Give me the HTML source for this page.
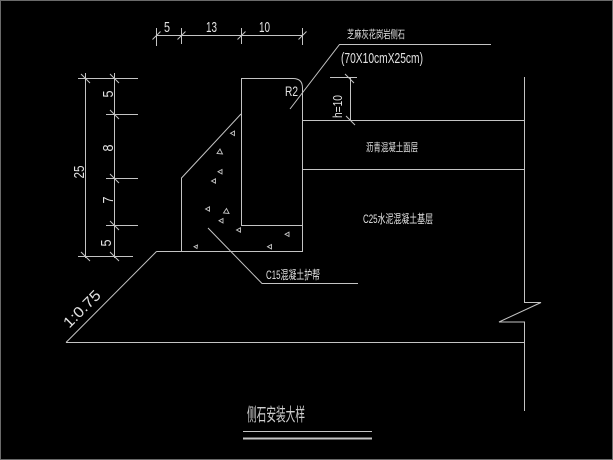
<!DOCTYPE html>
<html><head><meta charset="utf-8"><style>
html,body{margin:0;padding:0;background:#000;}
svg{display:block;}
text{font-family:"Liberation Sans","Noto Sans CJK SC","WenQuanYi Zen Hei",sans-serif;fill:#e2e2e2;}
</style></head><body>
<svg width="613" height="460" viewBox="0 0 613 460" xmlns="http://www.w3.org/2000/svg">
<rect x="0" y="0" width="613" height="460" fill="#000"/>
<rect x="0.5" y="0.5" width="612" height="459" fill="none" stroke="#6a6a6a" stroke-width="1"/>
<g stroke="#c4c4c4" stroke-width="1" fill="none">
  <!-- top dimension -->
  <line x1="156" y1="35.5" x2="303" y2="35.5"/>
  <line x1="156.5" y1="28" x2="156.5" y2="46"/>
  <line x1="181.5" y1="28" x2="181.5" y2="44"/>
  <line x1="241.5" y1="28" x2="241.5" y2="44"/>
  <line x1="302.5" y1="28" x2="302.5" y2="45"/>
  <line x1="152.5" y1="39.5" x2="160.5" y2="31.5"/>
  <line x1="177.5" y1="39.5" x2="185.5" y2="31.5"/>
  <line x1="237.5" y1="39.5" x2="245.5" y2="31.5"/>
  <line x1="298.5" y1="39.5" x2="306.5" y2="31.5"/>
  <!-- left vertical dimensions -->
  <line x1="85.5" y1="73" x2="85.5" y2="258"/>
  <line x1="114.5" y1="73" x2="114.5" y2="258"/>
  <line x1="78" y1="78.5" x2="138" y2="78.5"/>
  <line x1="106" y1="114.5" x2="138" y2="114.5"/>
  <line x1="106" y1="178.5" x2="138" y2="178.5"/>
  <line x1="106" y1="225.5" x2="138" y2="225.5"/>
  <line x1="78" y1="256.5" x2="133" y2="256.5"/>
  <line x1="81" y1="74" x2="90" y2="83"/>
  <line x1="110" y1="74" x2="119" y2="83"/>
  <line x1="110" y1="110" x2="119" y2="119"/>
  <line x1="110" y1="174" x2="119" y2="183"/>
  <line x1="110" y1="221" x2="119" y2="230"/>
  <line x1="81" y1="252" x2="90" y2="261"/>
  <line x1="110" y1="252" x2="119" y2="261"/>
  <!-- curb stone -->
  <path d="M241.5 225.5 L241.5 78.5 L293 78.5 Q302.5 78.5 302.5 88 L302.5 252"/>
  <line x1="241" y1="225.5" x2="302.5" y2="225.5"/>
  <!-- backing -->
  <path d="M241 114 L181.5 178 L181.5 251.5 L302.5 251.5"/>
  <!-- ground and slope -->
  <line x1="156.5" y1="251.5" x2="182" y2="251.5"/>
  <line x1="156.5" y1="251.5" x2="66" y2="342.5"/>
  <line x1="66" y1="342.5" x2="524" y2="342.5"/>
  <!-- road layers -->
  <line x1="302" y1="120.5" x2="524" y2="120.5"/>
  <line x1="302" y1="169.5" x2="524" y2="169.5"/>
  <path d="M524.5 77 L524.5 302.5 L541 302.5 L499 322 L524.5 322 L524.5 411"/>
  <!-- h=10 dimension -->
  <line x1="350.5" y1="77" x2="350.5" y2="121"/>
  <line x1="330" y1="77.5" x2="357" y2="77.5"/>
  <line x1="345" y1="74" x2="354" y2="83"/>
  <line x1="346" y1="116" x2="355" y2="125"/>
  <!-- leaders -->
  <path d="M290 109 L339.5 44.5 L491 44.5"/>
  <path d="M208 228 L262 283.5 L358 283.5"/>
  <!-- title underlines -->
  <line x1="243" y1="431.5" x2="372" y2="431.5"/>
  <line x1="243" y1="438.5" x2="372" y2="438.5" stroke-width="2"/>
  <!-- aggregate triangles -->
  <g stroke-width="0.9">
    <path d="M230.5 133.3 L234.5 131 L234.5 135.6 Z"/>
    <path d="M217 153.5 L220 149 L222.5 154 Z"/>
    <path d="M218 171.7 L222 169.5 L222 174 Z"/>
    <path d="M211.5 181 L215.5 178.8 L215.5 183.2 Z"/>
    <path d="M205.5 209 L209.5 206.8 L209.5 211.2 Z"/>
    <path d="M223.5 213 L226.5 208.5 L229 213.5 Z"/>
    <path d="M219 220.7 L223 218.5 L223 223 Z"/>
    <path d="M236.5 230 L240.5 227.8 L240.5 232.2 Z"/>
    <path d="M285 234.3 L289 232.1 L289 236.5 Z"/>
    <path d="M194 246.7 L197.5 245 L197 248.5 Z"/>
    <path d="M267.5 246.7 L271.5 244.5 L271.5 249 Z"/>
  </g>
</g>
<!-- dimension labels -->
<text x="167" y="32" font-size="15" text-anchor="middle" textLength="6" lengthAdjust="spacingAndGlyphs">5</text>
<text x="211.5" y="32" font-size="15" text-anchor="middle" textLength="11" lengthAdjust="spacingAndGlyphs">13</text>
<text x="264.5" y="32" font-size="15" text-anchor="middle" textLength="11" lengthAdjust="spacingAndGlyphs">10</text>
<text transform="translate(113,94) rotate(-90)" font-size="15" text-anchor="middle" textLength="7" lengthAdjust="spacingAndGlyphs">5</text>
<text transform="translate(113,148) rotate(-90)" font-size="15" text-anchor="middle" textLength="7" lengthAdjust="spacingAndGlyphs">8</text>
<text transform="translate(113,200) rotate(-90)" font-size="15" text-anchor="middle" textLength="7" lengthAdjust="spacingAndGlyphs">7</text>
<text transform="translate(111,243) rotate(-90)" font-size="15" text-anchor="middle" textLength="7" lengthAdjust="spacingAndGlyphs">5</text>
<text transform="translate(84,172) rotate(-90)" font-size="15" text-anchor="middle" textLength="13" lengthAdjust="spacingAndGlyphs">25</text>
<text transform="translate(342,106.5) rotate(-90)" font-size="13" text-anchor="middle" textLength="23" lengthAdjust="spacingAndGlyphs">h=10</text>
<text x="285" y="96" font-size="14" textLength="13" lengthAdjust="spacingAndGlyphs">R2</text>
<!-- annotations -->
<text x="347" y="38" font-size="11" textLength="58" lengthAdjust="spacingAndGlyphs">芝麻灰花岗岩侧石</text>
<text x="341" y="63" font-size="15" textLength="82" lengthAdjust="spacingAndGlyphs">(70X10cmX25cm)</text>
<text x="366" y="151" font-size="11" textLength="52" lengthAdjust="spacingAndGlyphs">沥青混凝土面层</text>
<text x="363" y="223" font-size="12" textLength="70" lengthAdjust="spacingAndGlyphs">C25水泥混凝土基层</text>
<text x="266" y="279" font-size="12" textLength="54" lengthAdjust="spacingAndGlyphs">C15混凝土护帮</text>
<text transform="translate(82,309) rotate(-45)" y="5" font-size="15" text-anchor="middle" textLength="46" lengthAdjust="spacingAndGlyphs">1:0.75</text>
<text x="247" y="421" font-size="18" textLength="58" lengthAdjust="spacingAndGlyphs" style="fill:#cfcfcf">侧石安装大样</text>
</svg>
</body></html>
